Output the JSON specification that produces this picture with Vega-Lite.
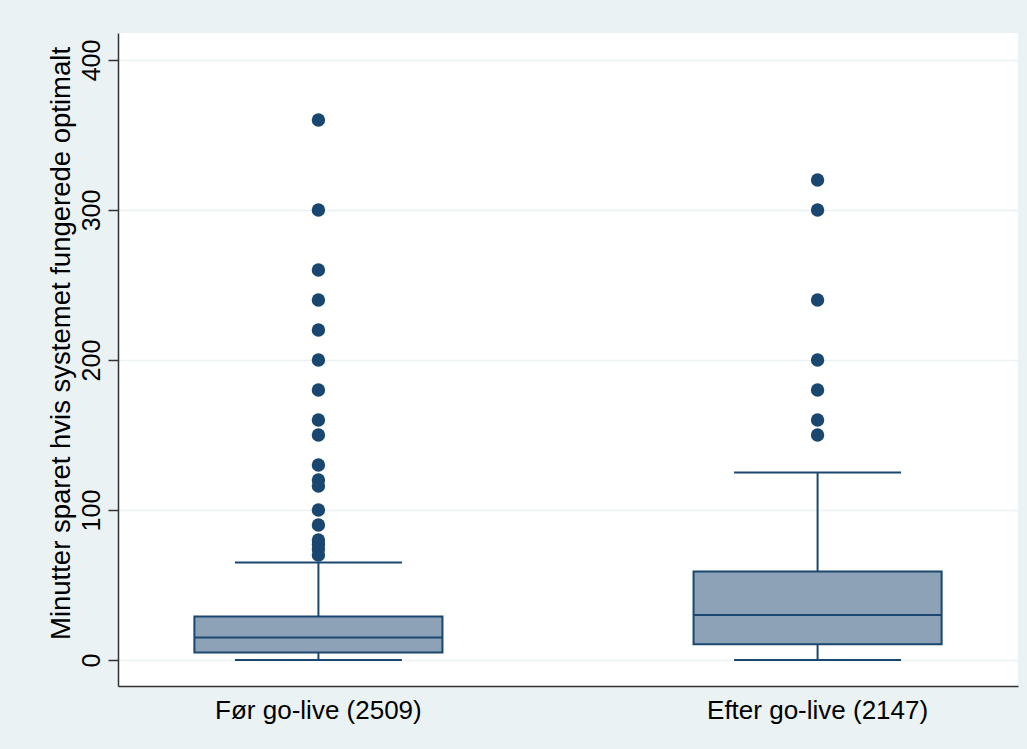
{
  "$schema": "https://vega.github.io/schema/vega-lite/v6.json",
  "width": 900,
  "height": 653,
  "autosize": {"type": "none"},
  "padding": {"left": 118, "top": 33, "right": 9, "bottom": 63},
  "background": "#EAF2F3",
  "config": {
    "view": {"fill": "white", "stroke": null},
    "font": "Liberation Sans",
    "axis": {"labelFont": "Liberation Sans", "titleFont": "Liberation Sans", "labelColor": "black", "titleColor": "black"}
  },
  "datasets": {
    "summary": [
      {"group": "Før go-live (2509)", "lower": 0, "q1": 5, "median": 15, "q3": 29, "upper": 65},
      {"group": "Efter go-live (2147)", "lower": 0, "q1": 10.5, "median": 30, "q3": 59, "upper": 125}
    ],
    "outliers": [
      {"group": "Før go-live (2509)", "value": 360},
      {"group": "Før go-live (2509)", "value": 300},
      {"group": "Før go-live (2509)", "value": 260},
      {"group": "Før go-live (2509)", "value": 240},
      {"group": "Før go-live (2509)", "value": 220},
      {"group": "Før go-live (2509)", "value": 200},
      {"group": "Før go-live (2509)", "value": 180},
      {"group": "Før go-live (2509)", "value": 160},
      {"group": "Før go-live (2509)", "value": 150},
      {"group": "Før go-live (2509)", "value": 130},
      {"group": "Før go-live (2509)", "value": 120},
      {"group": "Før go-live (2509)", "value": 116},
      {"group": "Før go-live (2509)", "value": 100},
      {"group": "Før go-live (2509)", "value": 90},
      {"group": "Før go-live (2509)", "value": 80},
      {"group": "Før go-live (2509)", "value": 77},
      {"group": "Før go-live (2509)", "value": 74},
      {"group": "Før go-live (2509)", "value": 70},
      {"group": "Efter go-live (2147)", "value": 320},
      {"group": "Efter go-live (2147)", "value": 300},
      {"group": "Efter go-live (2147)", "value": 240},
      {"group": "Efter go-live (2147)", "value": 200},
      {"group": "Efter go-live (2147)", "value": 180},
      {"group": "Efter go-live (2147)", "value": 160},
      {"group": "Efter go-live (2147)", "value": 150}
    ]
  },
  "encoding": {
    "x": {
      "field": "group",
      "type": "nominal",
      "sort": ["Før go-live (2509)", "Efter go-live (2147)"],
      "scale": {"type": "band", "paddingInner": 0.503, "paddingOuter": 0.153},
      "axis": {
        "title": null,
        "labelAngle": 0,
        "labelFontSize": 26,
        "labelLimit": 0,
        "labelPadding": 11,
        "ticks": false,
        "domainColor": "#333333",
        "domainWidth": 1.5,
        "grid": false
      }
    }
  },
  "layer": [
    {
      "data": {"name": "summary"},
      "mark": {"type": "rule", "color": "#1A476F", "strokeWidth": 2},
      "encoding": {
        "y": {
          "field": "lower",
          "type": "quantitative",
          "scale": {"domain": [-17.3, 418], "nice": false, "zero": false},
          "axis": {
            "title": "Minutter sparet hvis systemet fungerede optimalt",
            "titleFontSize": 27.5,
            "titleFontWeight": "normal",
            "titlePadding": 4,
            "titleY": 310,
            "titleAlign": "center",
            "values": [0, 100, 200, 300, 400],
            "labelAngle": 270,
            "labelAlign": "center",
            "labelBaseline": "bottom",
            "labelFontSize": 25,
            "labelPadding": 4,
            "tickSize": 10,
            "tickColor": "#333333",
            "tickWidth": 1.5,
            "domainColor": "#333333",
            "domainWidth": 1.5,
            "grid": true,
            "gridColor": "#EAF2F3",
            "gridWidth": 1.5
          }
        },
        "y2": {"field": "upper"}
      }
    },
    {
      "data": {"name": "summary"},
      "mark": {"type": "bar", "fill": "#8DA2B7", "stroke": "#1A476F", "strokeWidth": 2},
      "encoding": {
        "y": {"field": "q1", "type": "quantitative"},
        "y2": {"field": "q3"}
      }
    },
    {
      "data": {"name": "summary"},
      "mark": {"type": "tick", "color": "#1A476F", "thickness": 2, "size": 248, "opacity": 1},
      "encoding": {
        "y": {"field": "median", "type": "quantitative"}
      }
    },
    {
      "data": {"name": "summary"},
      "mark": {"type": "tick", "color": "#1A476F", "thickness": 2, "size": 167, "opacity": 1},
      "encoding": {
        "y": {"field": "upper", "type": "quantitative"}
      }
    },
    {
      "data": {"name": "summary"},
      "mark": {"type": "tick", "color": "#1A476F", "thickness": 2, "size": 167, "opacity": 1},
      "encoding": {
        "y": {"field": "lower", "type": "quantitative"}
      }
    },
    {
      "data": {"name": "outliers"},
      "mark": {"type": "circle", "color": "#1A476F", "opacity": 1, "size": 180},
      "encoding": {
        "y": {"field": "value", "type": "quantitative"}
      }
    }
  ]
}
